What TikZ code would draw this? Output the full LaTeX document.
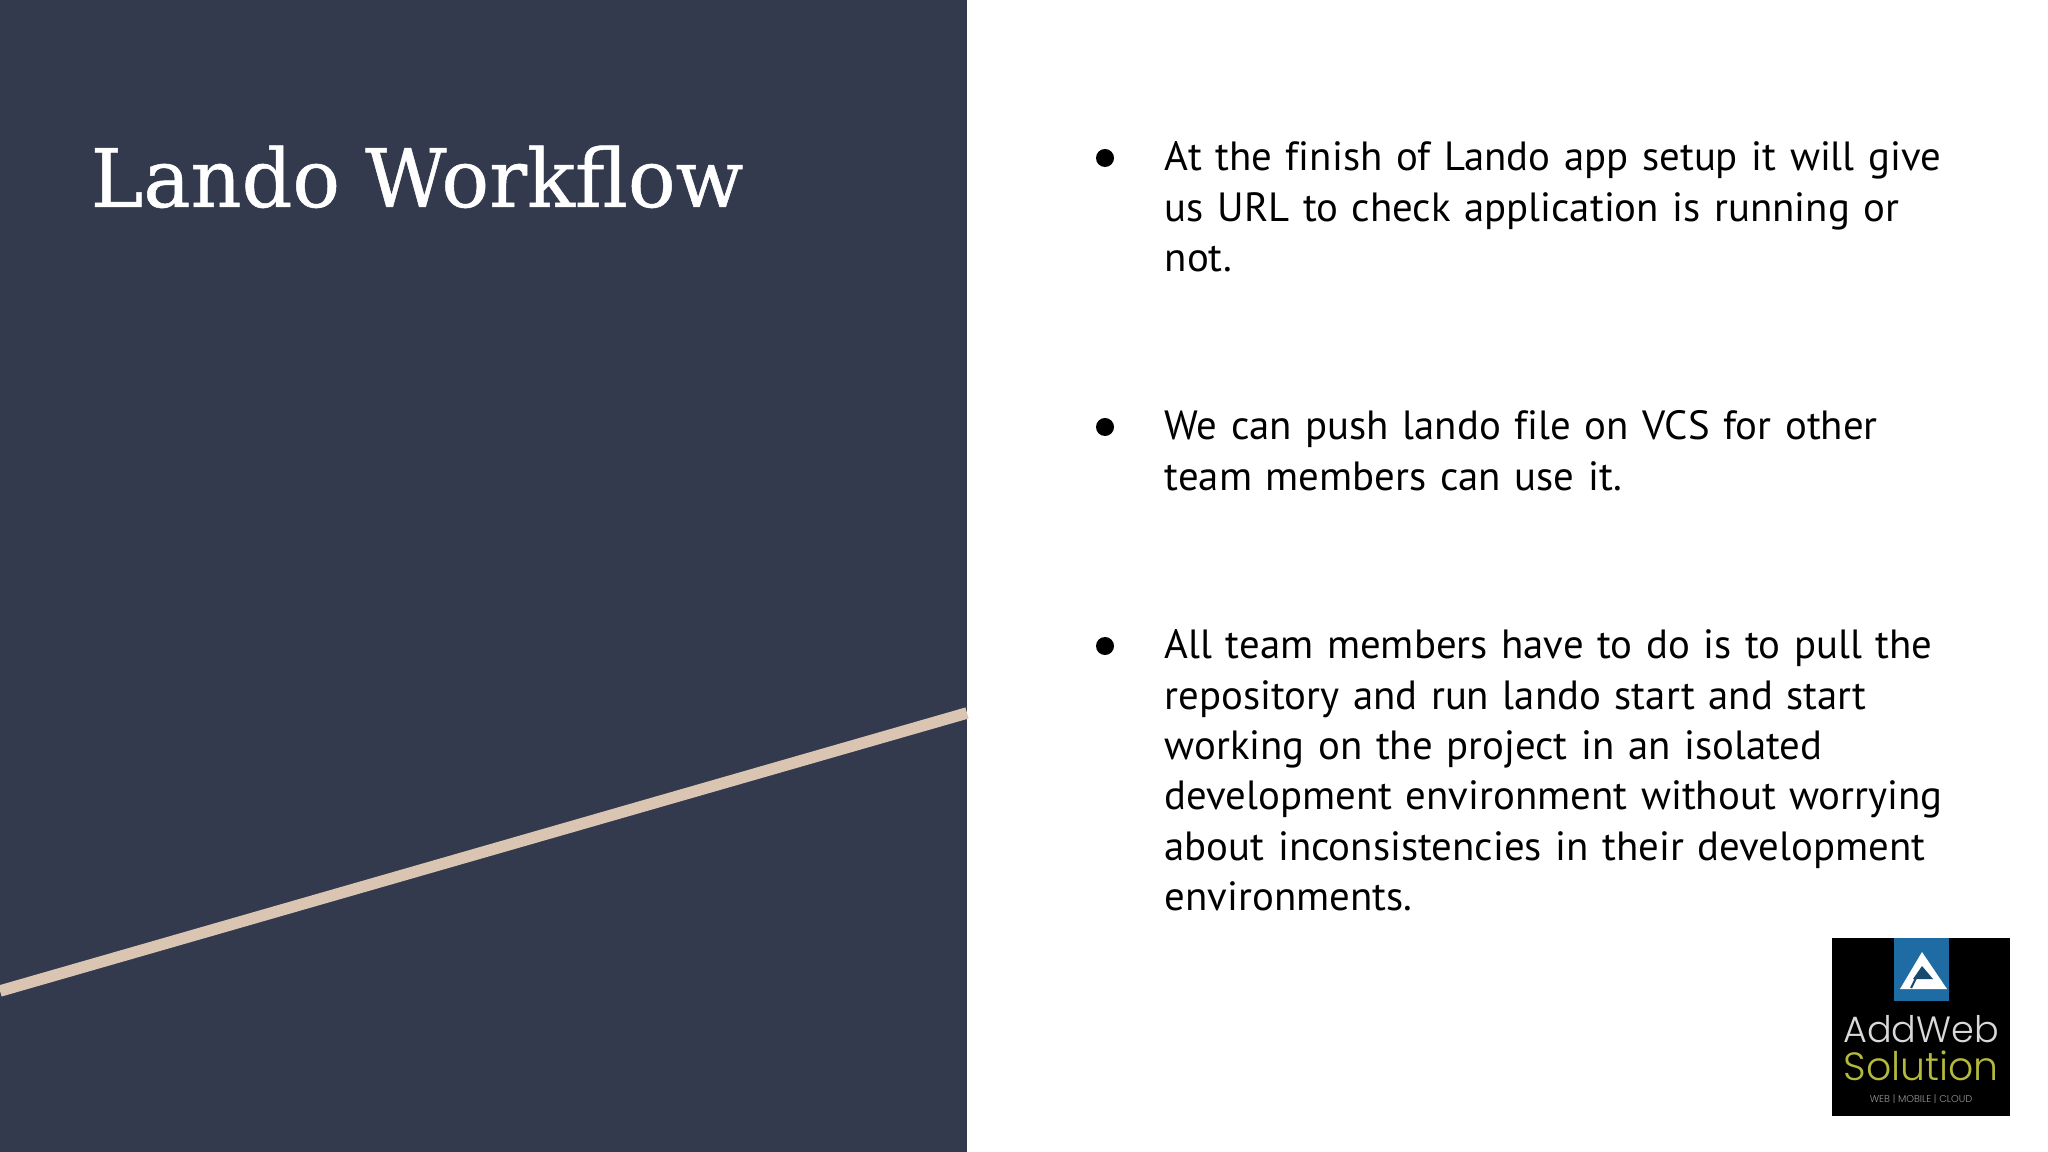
\documentclass[tikz,border=0pt]{standalone}
\usepackage{fontspec}
\setmainfont[Ligatures=NoCommon]{PT Sans}
\newfontfamily\titlefont[FakeBold=0.6,FakeStretch=0.98]{DejaVu Serif}
\newfontfamily\logofont{Poppins Light}
\definecolor{panelnavy}{HTML}{333A4E}
\definecolor{slashtan}{HTML}{DAC4B2}
\definecolor{logoblue}{HTML}{1E6CA3}
\definecolor{logodeep}{HTML}{174A6E}
\definecolor{logoolive}{HTML}{B4BA3C}
\tikzset{
  bodytext/.style={anchor=base west, inner sep=0pt, text width=8.7cm, align=left, font=\fontsize{11.6pt}{14.3pt}\selectfont},
  bulletdot/.style={circle, fill=black, inner sep=0pt, minimum size=1.8mm},
}
\begin{document}
\begin{tikzpicture}[x=0.01cm, y=-0.01cm]
\useasboundingbox (0,0) rectangle (2048,1152);
% left panel
\fill[panelnavy] (0,0) rectangle (967,1152);
\coordinate (slashl) at (0,991);
\coordinate (slashr) at (967,713);
\draw[slashtan, line width=0.115cm] (slashl) -- (slashr);
\node[anchor=base west, inner sep=0pt, text=white, font=\titlefont\fontsize{23pt}{28pt}\selectfont] (title) at (90,207) {Lando Workflow};
% bullets
\node[bodytext] (first) at (1164,171) {At the finish of Lando app setup it will give\\ us URL to check application is running or\\ not.};
\node[bodytext] (second) at (1164,440) {We can push lando file on VCS for other\\ team members can use it.};
\node[bodytext] (third) at (1164,659) {All team members have to do is to pull the\\ repository and run lando start and start\\ working on the project in an isolated\\ development environment without worrying\\ about inconsistencies in their development\\ environments.};
\node[bulletdot] (dota) at (1105,158) {};
\node[bulletdot] (dotb) at (1105,427) {};
\node[bulletdot] (dotc) at (1105,646) {};
% logo
\fill[black] (1832,938) rectangle (2010,1116);
\fill[logoblue] (1894,938) rectangle (1949,1001);
\fill[white] (1922,952) -- (1947,989) -- (1900,989) -- cycle;
\fill[logodeep] (1922,966) -- (1933,979) -- (1913,979) -- cycle;
\draw[logodeep, line width=0.02cm] (1911,988) -- (1917,976);
\node[anchor=base, inner sep=0pt, text=white!85!black, font=\logofont\fontsize{10.4pt}{14pt}\selectfont] (addweb) at (1921,1042) {AddWeb};
\node[anchor=base, inner sep=0pt, text=logoolive, font=\logofont\fontsize{11.2pt}{14pt}\selectfont] (solution) at (1921,1080) {Solution};
\node[anchor=base, inner sep=0pt, text=white!60!black, font=\logofont\fontsize{2.8pt}{3pt}\selectfont] (tagline) at (1921,1102) {WEB | MOBILE | CLOUD};
\end{tikzpicture}
\end{document}
